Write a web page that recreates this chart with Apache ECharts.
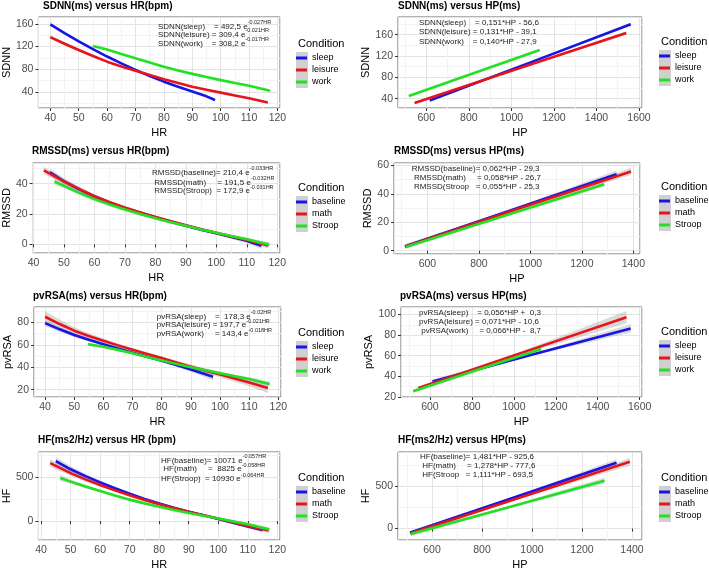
<!DOCTYPE html>
<html><head><meta charset="utf-8">
<script src="https://cdn.jsdelivr.net/npm/echarts@6/dist/echarts.min.js"></script>
<style>html,body{margin:0;padding:0;background:#fff}#c{width:709px;height:571px}</style>
</head><body><div id="c"></div>
<script>
// ---------- DATA (points: [x, y, confidence half-width]) ----------
const condA = ['sleep', 'leisure', 'work'];
const condB = ['baseline', 'math', 'Stroop'];

const sdnnHR_sleep   = [[40,159,2.5],[45,143.5,2],[50,129,1.5],[55,115.5,1.2],[60,102.5,1],[65,90.5,1],[70,79,1],[75,68.3,1],[80,58.3,1],[85,49.3,1.2],[90,41,1.5],[95,32.5,1.8],[98,26,2]];
const sdnnHR_leisure = [[40,136.5,3],[45,125,2.5],[50,114,2],[55,103.5,1.5],[60,93.5,1.2],[65,85,1],[70,77.5,1],[75,70,1],[80,62.5,1],[85,56,1],[90,49.5,1],[95,44,1],[100,39,1.2],[105,34,1.3],[110,29,1.5],[116.6,21.5,2]];
const sdnnHR_work    = [[55,121,1.5],[60,115,1],[65,107,1],[70,99.5,1],[75,92,1],[80,84.5,1],[85,78,1],[90,72,1],[95,66.5,1],[100,61,1],[105,56,1.1],[110,51,1.2],[117.4,42.5,1.5]];

const sdnnHP_sleep   = [[616,36.5,2],[1090,108,1],[1561,179.5,3]];
const sdnnHP_leisure = [[545,32,2],[1040,97.5,1],[1540,163,3.5]];
const sdnnHP_work    = [[518,45,1.5],[825,88,0.8],[1133,131,1.5]];

const rmssdHR_baseline = [[45.4,47.5,2.5],[50,41.5,2],[55,36.2,1.7],[60,31.5,1.5],[65,27.5,1.3],[70,24,1.2],[75,20.8,1.1],[80,17.8,1],[85,15,1],[90,12.3,1],[95,9.7,1.1],[100,7.3,1.2],[105,4.8,1.3],[110,2.3,1.5],[114.8,-1,2]];
const rmssdHR_math     = [[43.4,48.7,2.5],[50,41.5,1.8],[55,36.4,1.5],[60,31.7,1.2],[65,27.7,1.1],[70,24.2,1],[75,21,1],[80,18,1],[85,15.2,1],[90,12.5,1],[95,9.9,1],[100,7.5,1],[105,5.1,1.1],[110,2.8,1.3],[117,-0.8,1.8]];
const rmssdHR_Stroop   = [[46.9,41.3,2],[50,38.5,1.5],[55,33.9,1.3],[60,29.8,1.2],[65,26.2,1.1],[70,23,1],[75,20,1],[80,17.2,1],[85,14.6,1],[90,12.2,1],[95,9.8,1],[100,7.6,1],[105,5.4,1.1],[110,3.3,1.2],[117.4,-0.3,1.5]];

const rmssdHP_baseline = [[512,3,1.5],[925,28.4,0.8],[1335,53.8,2.5]];
const rmssdHP_math     = [[515,3,1.5],[953,29.4,0.8],[1391,55.7,2.5]];
const rmssdHP_Stroop   = [[515,2.6,1.2],[900,24.6,0.8],[1287,46.6,1.5]];

const pvrsaHR_sleep   = [[40,79.3,2.5],[45,73.8,2.1],[50,68.8,1.8],[55,64.5,1.5],[60,60.5,1.2],[65,56.7,1.1],[70,53,1],[75,49.4,1.1],[80,45.8,1.2],[85,42,1.5],[90,38,2],[97.6,31.5,3]];
const pvrsaHR_leisure = [[40,85,5],[45,78.5,4],[50,72.6,3],[55,67.8,2.5],[60,63.7,2],[65,59.5,1.7],[70,55.6,1.5],[75,51.8,1.5],[80,48.2,1.5],[85,44.3,1.7],[90,40.5,2],[95,37,2.2],[100,33.5,2.5],[105,30,3],[110,26.5,3.5],[116.4,21.5,4.5]];
const pvrsaHR_work    = [[54.7,60.5,1.5],[60,58.3,1.2],[65,55.5,1.1],[70,52.5,1],[75,49.2,1],[80,46,1],[85,43,1],[90,40,1],[95,37.3,1.1],[100,34.7,1.2],[105,32,1.3],[110,29.5,1.5],[117,25,2]];

const pvrsaHP_sleep   = [[612,35,2],[1085,61,1],[1557,86.5,4]];
const pvrsaHP_leisure = [[545,28.5,1.5],[1040,63,1.5],[1537,97.5,6]];
const pvrsaHP_work    = [[520,25.5,1.5],[825,46,1],[1130,66.5,1.5]];

const hfHR_baseline = [[45,687,45],[50,593,35],[55,515,28],[60,444,22],[65,376,18],[70,313,15],[75,254,13],[80,201,12],[85,152,12],[90,108,12],[95,66,13],[100,25,15],[105,-18,18],[110,-60,22],[115,-100,30]];
const hfHR_math     = [[43.1,664,45],[50,549,30],[55,478,24],[60,414,20],[65,352,17],[70,295,15],[75,242,13],[80,194,12],[85,149,12],[90,108,12],[95,68,13],[100,30,15],[105,-12,17],[110,-55,20],[117.1,-108,30]];
const hfHR_Stroop   = [[46.5,493,35],[50,452,25],[55,396,19],[60,345,15],[65,294,13],[70,246,12],[75,203,11],[80,164,10],[85,127,10],[90,93,10],[95,61,11],[100,30,12],[105,-3,13],[110,-35,15],[117.3,-95,25]];

const hfHP_baseline = [[512,-50,25],[925,364,12],[1338,777,40]];
const hfHP_math     = [[515,-55,25],[953,367,12],[1391,788,45]];
const hfHP_Stroop   = [[515,-65,25],[903,250,12],[1290,565,35]];

// annotation texts: [main, superscript]
const annSdnnHR  = [['SDNN(sleep)    = 492,5 e','-0.027HR'],['SDNN(leisure) = 309,4 e','-0.021HR'],['SDNN(work)    = 308,2 e','-0.017HR']];
const annSdnnHP  = [['SDNN(sleep)    = 0,151*HP - 56,6',''],['SDNN(leisure) = 0,131*HP - 39,1',''],['SDNN(work)    = 0,140*HP - 27,9','']];
const annRmssdHR = [['RMSSD(baseline)= 210,4 e','-0.033HR'],[' RMSSD(math)     = 191,5 e','-0.032HR'],[' RMSSD(Stroop)  = 172,9 e','-0.031HR']];
const annRmssdHP = [['RMSSD(baseline)= 0,062*HP - 29,3',''],[' RMSSD(math)     = 0,058*HP - 26,7',''],[' RMSSD(Stroop   = 0,055*HP - 25,3','']];
const annPvrsaHR = [['pvRSA(sleep)    =  178,3 e','-0.02HR'],['pvRSA(leisure) = 197,7 e','-0.021HR'],['pvRSA(work)     = 143,4 e','-0.018HR']];
const annPvrsaHP = [['pvRSA(sleep)    = 0,056*HP +  0,3',''],['pvRSA(leisure) = 0,071*HP - 10,6',''],[' pvRSA(work)     = 0,066*HP -  8,7','']];
const annHfHR    = [['HF(baseline)= 10071 e','-0.057HR'],[' HF(math)     =  8825 e','-0.058HR'],['HF(Stroop)  = 10930 e','-0.064HR']];
const annHfHP    = [['HF(baseline)= 1,481*HP - 925,6',''],[' HF(math)     = 1,278*HP - 777,6',''],[' HF(Stroop   = 1,111*HP - 693,5','']];

// ---------- LAYOUT ----------
const COLORS = ['#1515e6', '#e8141c', '#22e022'];
const FONT = 'Liberation Sans, Arial, sans-serif';

const panels = [
  {title:'SDNN(ms) versus HR(bpm)', xName:'HR', yName:'SDNN', g:[37,17,280,108], t:[43,6], xr:[35.8,120.9,10], yr:[12,172,40], yGap:24,
   data:[sdnnHR_sleep,sdnnHR_leisure,sdnnHR_work], names:condA, ann:annSdnnHR, ax:158, ay:[26.7,34.3,43.7], lx:298, ly:45},
  {title:'SDNN(ms) versus HP(ms)', xName:'HP', yName:'SDNN', g:[398,17,642,108], t:[398,6], xr:[467,1614,200], yr:[22.5,193,40], yGap:24,
   data:[sdnnHP_sleep,sdnnHP_leisure,sdnnHP_work], names:condA, ann:annSdnnHP, ax:419, ay:[25.7,35,44.3], lx:661, ly:43},
  {title:'RMSSD(ms) versus HR(bpm)', xName:'HR', yName:'RMSSD', g:[32,163,280,253], t:[32,151.7], xr:[39.7,120.9,10], yr:[-5.7,53.6,20], yGap:19,
   data:[rmssdHR_baseline,rmssdHR_math,rmssdHR_Stroop], names:condB, ann:annRmssdHR, ax:152, ay:[172.3,182.3,191], lx:298, ly:189},
  {title:'RMSSD(ms) versus HP(ms)', xName:'HP', yName:'RMSSD', g:[394,163,640,254], t:[394,151.7], xr:[470,1426,200], yr:[-2.3,61.6,20], yGap:21,
   data:[rmssdHP_baseline,rmssdHP_math,rmssdHP_Stroop], names:condB, ann:annRmssdHP, ax:411.7, ay:[171.7,180.7,189.3], lx:661, ly:188},
  {title:'pvRSA(ms) versus HR(bpm)', xName:'HR', yName:'pvRSA', g:[34,307,281,397], t:[33,296], xr:[36.2,120.9,10], yr:[13.5,93.7,20], yGap:21,
   data:[pvrsaHR_sleep,pvrsaHR_leisure,pvrsaHR_work], names:condA, ann:annPvrsaHR, ax:156.7, ay:[316.7,325,334], lx:298, ly:334},
  {title:'pvRSA(ms) versus HP(ms)', xName:'HP', yName:'pvRSA', g:[401,307,642,397], t:[400,296], xr:[462,1611,200], yr:[19.8,107.4,20], yGap:27,
   data:[pvrsaHP_sleep,pvrsaHP_leisure,pvrsaHP_work], names:condA, ann:annPvrsaHP, ax:419, ay:[315.7,324.7,333.3], lx:661, ly:333},
  {title:'HF(ms2/Hz) versus HR (bpm)', xName:'HR', yName:'HF', g:[37,452,280,542], t:[38,440], xr:[39.1,120.9,10], yr:[-216,791,500], yGap:23,
   data:[hfHR_baseline,hfHR_math,hfHR_Stroop], names:condB, ann:annHfHR, ax:161, ay:[460.7,469,479], lx:298, ly:479},
  {title:'HF(ms2/Hz) versus HP(ms)', xName:'HP', yName:'HF', g:[398,452,642,542], t:[398,440], xr:[464,1440,200], yr:[-135,904,500], yGap:24,
   data:[hfHP_baseline,hfHP_math,hfHP_Stroop], names:condB, ann:annHfHP, ax:420, ay:[459.3,468.3,477.3], lx:661, ly:479}
];

const grids = [], xAxes = [], yAxes = [], series = [], titles = [], legends = [], graphics = [];

panels.forEach((p, i) => {
  grids.push({left:p.g[0], top:p.g[1], width:p.g[2]-p.g[0], height:p.g[3]-p.g[1], show:true, borderColor:'#666', borderWidth:1, backgroundColor:'#fff'});
  const axCommon = (r) => ({
    type:'value', gridIndex:i, min:r[0], max:r[1], minInterval:r[2], maxInterval:r[2],
    axisLine:{show:false},
    axisTick:{show:true, length:3, lineStyle:{color:'#333'}},
    axisLabel:{fontSize:10.5, color:'#4d4d4d', margin:5, showMinLabel:false, showMaxLabel:false, fontFamily:FONT,
      formatter: v => String(v)},
    splitLine:{show:true, lineStyle:{color:'#e4e4e4', width:1}},
    minorTick:{show:false, splitNumber:2},
    minorSplitLine:{show:true, lineStyle:{color:'#f3f3f3', width:1}},
    nameLocation:'middle', nameTextStyle:{fontSize:11, color:'#000', fontFamily:FONT}
  });
  xAxes.push(Object.assign(axCommon(p.xr), {name:p.xName, nameGap:19}));
  yAxes.push(Object.assign(axCommon(p.yr), {name:p.yName, nameGap:p.yGap}));

  p.data.forEach((pts, k) => {
    series.push({
      type:'custom', name:'band'+i+'_'+k, xAxisIndex:i, yAxisIndex:i, silent:true, z:1, clip:true,
      encode:{x:0, y:[1,2]},
      data: pts.map(q => [q[0], q[1]-q[2], q[1]+q[2]]),
      renderItem: function(params, api) {
        if (params.dataIndex !== 0) return null;
        const up = [], lo = [];
        pts.forEach(q => { up.push(api.coord([q[0], q[1]+q[2]])); lo.push(api.coord([q[0], q[1]-q[2]])); });
        return {type:'polygon', shape:{points: up.concat(lo.reverse())}, style:{fill:'rgba(150,150,150,0.35)'}};
      }
    });
    series.push({
      type:'line', name:p.names[k], xAxisIndex:i, yAxisIndex:i, z:3, clip:true,
      data: pts.map(q => [q[0], q[1]]), showSymbol:false, symbol:'none', smooth:false,
      itemStyle:{color:COLORS[k]}, lineStyle:{color:COLORS[k], width:2.6, join:'round'}
    });
  });

  titles.push({text:p.title, left:p.t[0], top:Math.max(0, p.t[1]-5), padding:0,
    textStyle:{fontSize:10, fontWeight:'bold', color:'#000', fontFamily:FONT}});

  graphics.push({type:'text', left:p.lx, top:p.ly-7, z:10,
    style:{text:'Condition', fontSize:11, fill:'#000', fontFamily:FONT}});
  graphics.push({type:'rect', left:p.lx-2, top:p.ly+7, z:0,
    shape:{width:12, height:36}, style:{fill:'#d0d0d0'}});
  legends.push({data:p.names, orient:'vertical', left:p.lx-2, top:p.ly+7, padding:0,
    itemWidth:11, itemHeight:3, itemGap:0, icon:'rect', selectedMode:false, z:5,
    textStyle:{fontSize:9, lineHeight:12, color:'#000', fontFamily:FONT}});

  p.ann.forEach((a, k) => {
    const txt = a[1] ? '{a|' + a[0] + '}{s|' + a[1] + '}' : '{a|' + a[0] + '}';
    graphics.push({type:'text', left:p.ax, top:p.ay[k]-7, z:10,
      style:{text:txt, rich:{
        a:{fontSize:8, fill:'#222', fontFamily:FONT, lineHeight:14, verticalAlign:'middle'},
        s:{fontSize:5.5, fill:'#222', fontFamily:FONT, lineHeight:7, verticalAlign:'top'}
      }}});
  });
});

const chart = echarts.init(document.getElementById('c'), null, {renderer:'canvas'});
chart.setOption({
  animation:false,
  backgroundColor:'#fff',
  textStyle:{fontFamily:FONT},
  title:titles, grid:grids, xAxis:xAxes, yAxis:yAxes, legend:legends, series:series, graphic:graphics
});
</script></body></html>
